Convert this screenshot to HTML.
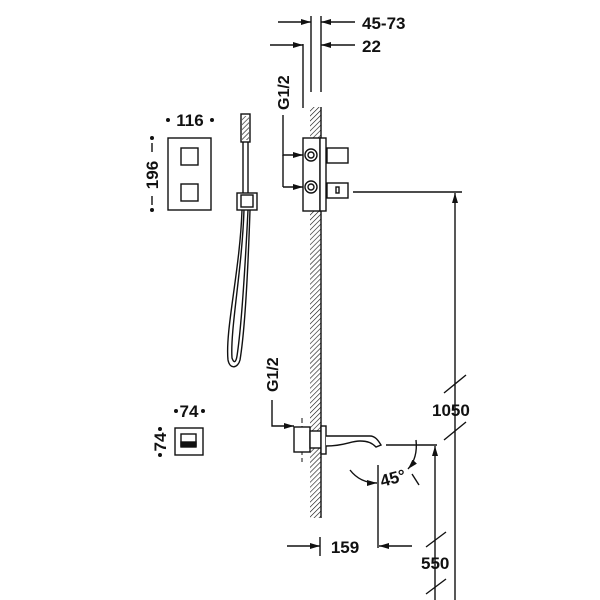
<!DOCTYPE html>
<html><head><style>body{margin:0;background:#fff}svg{display:block}text{font-family:"Liberation Sans",Arial,sans-serif;font-weight:bold;fill:#111}</style></head>
<body>
<svg width="600" height="600" viewBox="0 0 600 600" xmlns="http://www.w3.org/2000/svg">
<defs>
<pattern id="h" width="3.5" height="3.5" patternUnits="userSpaceOnUse" patternTransform="rotate(45)"><line x1="0" y1="0" x2="0" y2="3.5" stroke="#111" stroke-width="1.2"/></pattern>
<marker id="a" viewBox="0 0 10 6" refX="10" refY="3" markerWidth="10" markerHeight="6" orient="auto" markerUnits="userSpaceOnUse"><path d="M0,0L10,3L0,6z" fill="#111"/></marker>
</defs>
<g stroke="#111" stroke-width="1.4" fill="none">
<rect x="310" y="107" width="11" height="411" fill="url(#h)" stroke="none"/>
<line x1="321" y1="107" x2="321" y2="518"/>
<line x1="311" y1="16" x2="311" y2="92"/><line x1="321" y1="16" x2="321" y2="92"/>
<line x1="303" y1="44" x2="303" y2="108"/>
<line x1="278" y1="22" x2="311" y2="22" marker-end="url(#a)"/>
<line x1="355" y1="22" x2="321" y2="22" marker-end="url(#a)"/>
<line x1="270" y1="45" x2="303" y2="45" marker-end="url(#a)"/>
<line x1="355" y1="45" x2="321" y2="45" marker-end="url(#a)"/>
<rect x="303" y="138" width="17" height="73" fill="#fff"/>
<rect x="320" y="138" width="6" height="73" fill="#fff"/>
<rect x="327" y="148" width="21" height="15" fill="#fff"/>
<rect x="327" y="183" width="21" height="15" fill="#fff"/>
<rect x="336" y="187" width="3" height="6"/>
<circle cx="311" cy="155" r="6"/><circle cx="311" cy="155" r="3"/>
<circle cx="311" cy="187" r="6"/><circle cx="311" cy="187" r="3"/>
<polyline points="283,115 283,155 303,155" marker-end="url(#a)"/>
<line x1="283" y1="155" x2="283" y2="187"/>
<line x1="283" y1="187" x2="303" y2="187" marker-end="url(#a)"/>
<line x1="353" y1="192" x2="462" y2="192"/>
<line x1="455" y1="600" x2="455" y2="193" marker-end="url(#a)"/>
<line x1="444" y1="393" x2="466" y2="375"/><line x1="444" y1="440" x2="466" y2="422"/>
<rect x="168" y="138" width="43" height="72"/>
<rect x="181" y="148" width="17" height="17"/>
<rect x="181" y="184" width="17" height="17"/>
<line x1="152" y1="143" x2="152" y2="152"/><line x1="152" y1="196" x2="152" y2="205"/>
<rect x="241" y="114" width="9" height="28" fill="#fff"/>
<rect x="242" y="116" width="7" height="24" fill="url(#h)" stroke="none"/>
<line x1="243" y1="142" x2="243" y2="195"/><line x1="248" y1="142" x2="248" y2="195"/>
<rect x="237" y="193" width="20" height="17" fill="#fff"/>
<rect x="241" y="195" width="12" height="12"/>
<path d="M242,210 C240,270 225,330 228,360 C230,370 238,368 240,360 C245,330 248,270 250,210"/>
<path d="M244,210 C242,270 230,330 232,358 C234,364 236,362 237,356 C241,330 245,270 248,210"/>
<rect x="175" y="428" width="28" height="27"/>
<rect x="181" y="434" width="15" height="13"/>
<rect x="181" y="442" width="15" height="4" fill="#111"/>
<line x1="302" y1="418" x2="302" y2="462" stroke-dasharray="5,3" stroke-width="1"/>
<rect x="294" y="427" width="16" height="25" fill="#fff"/>
<rect x="310" y="431" width="11" height="17" fill="#fff"/>
<rect x="321" y="426" width="5" height="28" fill="#fff"/>
<path d="M326,436 L370,436 C375,436 378,440 381,445 L376,447 C372,443 368,441 360,441 C350,441 345,446 326,446" fill="#fff"/>
<polyline points="272,400 272,426 294,426" marker-end="url(#a)"/>
<line x1="386" y1="445" x2="437" y2="445"/>
<line x1="435" y1="600" x2="435" y2="446" marker-end="url(#a)"/>
<line x1="426" y1="547" x2="446" y2="532"/><line x1="426" y1="594" x2="446" y2="579"/>
<line x1="378" y1="465" x2="378" y2="548"/>
<path d="M350,470 Q360,483 377,483" marker-end="url(#a)"/>
<path d="M416,440 Q418,458 408,469" marker-end="url(#a)"/>
<line x1="412" y1="474" x2="419" y2="485"/>
<line x1="287" y1="546" x2="320" y2="546" marker-end="url(#a)"/>
<line x1="320" y1="537" x2="320" y2="556"/>
<line x1="412" y1="546" x2="379" y2="546" marker-end="url(#a)"/>
</g>
<g fill="#111">
<circle cx="168" cy="120" r="2"/><circle cx="212" cy="120" r="2"/>
<circle cx="152" cy="138" r="2"/><circle cx="152" cy="210" r="2"/>
<circle cx="176" cy="411" r="2"/><circle cx="203" cy="411" r="2"/>
<circle cx="160" cy="429" r="2"/><circle cx="160" cy="455" r="2"/>
</g>
<text x="362" y="29" font-size="17">45-73</text>
<text x="362" y="52" font-size="17">22</text>
<text transform="translate(289,110) rotate(-90)" font-size="16">G1/2</text>
<text transform="translate(278,392) rotate(-90)" font-size="16">G1/2</text>
<text x="190" y="126" font-size="17" text-anchor="middle">116</text>
<text transform="translate(158,175) rotate(-90)" font-size="17" text-anchor="middle">196</text>
<text x="189" y="417" font-size="17" text-anchor="middle">74</text>
<text transform="translate(166,442) rotate(-90)" font-size="17" text-anchor="middle">74</text>
<text x="432" y="416" font-size="17">1050</text>
<text x="421" y="569" font-size="17">550</text>
<text x="345" y="553" font-size="17" text-anchor="middle">159</text>
<text transform="translate(382,487) rotate(-15)" font-size="17">45°</text>
</svg>
</body></html>
